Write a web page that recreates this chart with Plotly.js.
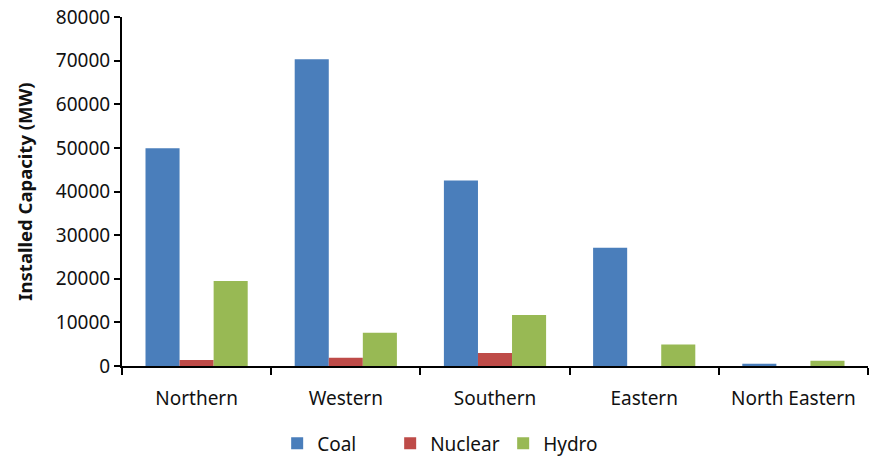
<!DOCTYPE html>
<html>
<head>
<meta charset="utf-8">
<script src="https://cdn.plot.ly/plotly-3.0.1.min.js"></script>
<style>
  html, body { margin: 0; padding: 0; background: #fff; }
  #chart { width: 869px; height: 459px; }
</style>
</head>
<body>
<div id="chart"></div>
<script>
// Installed capacity by regional grid (MW)
const regions = ["Northern", "Western", "Southern", "Eastern", "North Eastern"];
const coal    = [49900, 70300, 42500, 27100, 500];
const nuclear = [1400, 1900, 3000, 0, 0];
const hydro   = [19500, 7600, 11700, 4900, 1200];

const font = "Noto Sans, Open Sans, sans-serif";

const traces = [
  { name: "Coal",    y: coal,    color: "#4a7ebb" },
  { name: "Nuclear", y: nuclear, color: "#be4b48" },
  { name: "Hydro",   y: hydro,   color: "#98b954" }
].map(s => ({
  type: "bar",
  name: s.name,
  x: regions,
  y: s.y,
  marker: { color: s.color },
  hoverinfo: "x+y+name"
}));

const layout = {
  width: 869,
  height: 459,
  margin: { l: 122, r: 1, t: 17, b: 93, autoexpand: false },
  paper_bgcolor: "#fff",
  plot_bgcolor: "#fff",
  barmode: "group",
  bargap: 0.315,
  bargroupgap: 0,
  font: { family: font, color: "#111", size: 19 },
  xaxis: {
    showgrid: false,
    showline: true,
    linecolor: "#000",
    linewidth: 2,
    ticks: "outside",
    tickson: "boundaries",
    ticklen: 7,
    tickwidth: 2,
    tickcolor: "#000",
    tickfont: { size: 19, family: font },
    ticklabelstandoff: 14
  },
  yaxis: {
    range: [0, 80000],
    dtick: 10000,
    showgrid: false,
    zeroline: false,
    showline: true,
    linecolor: "#000",
    linewidth: 2,
    ticks: "outside",
    ticklen: 6,
    tickwidth: 2,
    tickcolor: "#000",
    tickformat: "d",
    tickfont: { size: 19, family: font },
    automargin: false,
    title: {
      text: "<b>Installed Capacity (MW)</b>",
      font: { size: 18.5, family: font },
      standoff: 18
    }
  },
  legend: {
    orientation: "h",
    x: 0.208,
    xanchor: "left",
    y: -0.167,
    yanchor: "top",
    font: { size: 19, family: font },
    itemwidth: 30,
    entrywidth: 68,
    entrywidthmode: "pixels",
    traceorder: "normal"
  },
  showlegend: true
};

Plotly.newPlot("chart", traces, layout, { displayModeBar: false, staticPlot: true });
</script>
</body>
</html>
